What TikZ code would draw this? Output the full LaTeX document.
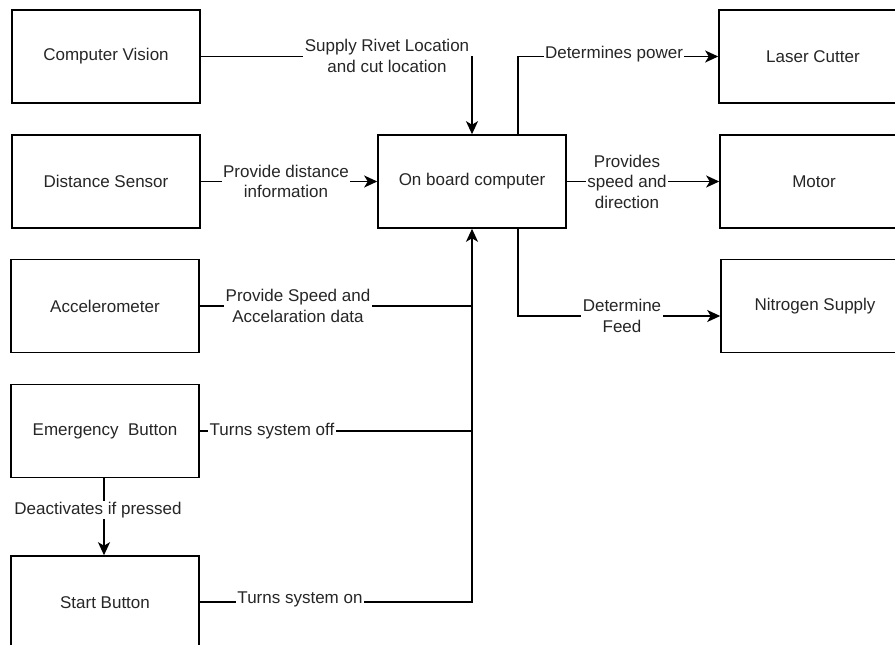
\documentclass[tikz,border=0pt]{standalone}
\usepackage{fontspec}
\setmainfont{Liberation Sans}
\usetikzlibrary{arrows.meta}
\begin{document}
\begin{tikzpicture}[x=1pt,y=-1pt,
  every node/.style={font=\fontsize{17}{20.5}\selectfont, text=black!85},
  box/.style={draw, line width=1.6pt, minimum width=188pt, minimum height=93pt, inner sep=0pt, align=center},
  lbl/.style={fill=white, inner sep=1.5pt, align=center},
  conn/.style={line width=1.5pt},
  arr/.style={conn, -{Stealth[length=13pt,width=12pt,inset=3.5pt]}}]
\clip (0,0) rectangle (895,645);
\fill[white] (0,0) rectangle (895,645);
% boxes
\node[box] (cv)  at (106,56.5) {Computer Vision};
\node[box] (ds)  at (106,181.5) {Distance Sensor};
\node[box] (acc) at (105,306) {Accelerometer};
\node[box] (em)  at (105,431) {Emergency\ \ Button};
\node[box] (st)  at (105,602.5) {Start Button};
\node[box] (obc) at (472,181.5) {On board computer};
\node[box] (lc)  at (813,56.5) {Laser Cutter};
\node[box] (mo)  at (814,181.5) {Motor};
\node[box] (ns)  at (815,306) {Nitrogen Supply};
% helper coordinates
\coordinate (cvc) at (472,56.5);
\coordinate (accj) at (472,306);
\coordinate (emj) at (472,431);
\coordinate (stj) at (472,602);
\coordinate (lcc) at (518,56.5);
\coordinate (nsc) at (518,316);
% connectors
\draw[arr] (cv.east) -- (cvc) -- (obc.north -| cvc);
\draw[arr] (ds.east) -- (obc.west);
\draw[conn] (acc.east) -- (accj);
\draw[conn] (em.east) -- (emj);
\draw[arr] (st.east |- stj) -- (stj) -- (obc.south -| stj);
\draw[arr] (em.south -| 104,0) -- (st.north -| 104,0);
\draw[arr] (obc.north -| lcc) -- (lcc) -- (lc.west);
\draw[arr] (obc.east) -- (mo.west);
\draw[arr] (obc.south -| nsc) -- (nsc) -- (ns.west |- nsc);
% labels
\node[lbl] (l1) at (387,56) {Supply Rivet Location\\and cut location};
\node[lbl] (l2) at (286,181.5) {Provide distance\\information};
\node[lbl] (l3) at (298,306) {Provide Speed and\\Accelaration data};
\node[lbl] (l4) at (272,431) {Turns system off};
\node[lbl] (l5) at (300,599) {Turns system on};
\node[lbl] (l6) at (98,510) {Deactivates if pressed};
\node[lbl] (l7) at (614,54) {Determines power};
\node[lbl] (l8) at (627,181.5) {Provides\\speed and\\direction};
\node[lbl] (l9) at (622,316) {Determine\\Feed};
\end{tikzpicture}
\end{document}
